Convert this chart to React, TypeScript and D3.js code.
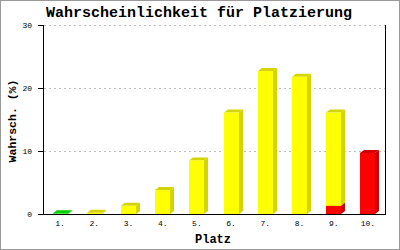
import React from "react";
import * as d3 from "d3";

const categories = ["1.", "2.", "3.", "4.", "5.", "6.", "7.", "8.", "9.", "10."];
const greenValues = [0.1, 0, 0, 0, 0, 0, 0, 0, 0, 0];
const redValues = [0, 0, 0, 0, 0, 0, 0, 0, 1.3, 9.7];
const yellowValues = [0, 0.2, 1.3, 3.8, 8.5, 16.1, 22.7, 21.8, 14.8, 0];
const yTicks = [0, 10, 20, 30];

const seriesKeys = ["green", "red", "yellow"];
const colors: Record<string, { front: string; dark: string }> = {
  green: { front: "#00ee00", dark: "#00cc00" },
  red: { front: "#ff0000", dark: "#cc0000" },
  yellow: { front: "#ffff00", dark: "#d4d400" },
};

const W = 400;
const H = 250;
const left = 43;
const right = 385;
const top = 25;
const bottom = 214;
const barW = 15;
const dx = 4;
const dy = 3;
const mono = "'Liberation Mono', 'DejaVu Sans Mono', monospace";

export default function App() {
  const rows = categories.map((c, i) => ({
    cat: c,
    green: greenValues[i],
    red: redValues[i],
    yellow: yellowValues[i],
  }));
  const stacked = d3.stack<any>().keys(seriesKeys)(rows);
  const x = d3.scaleBand().domain(categories).range([left, right]).padding(0);
  const y = d3.scaleLinear().domain([0, 30]).range([bottom, top]);

  const boxes: JSX.Element[] = [];
  stacked.forEach((layer) => {
    const key = layer.key;
    layer.forEach((d, i) => {
      const v0 = d[0];
      const v1 = d[1];
      if (v1 - v0 <= 0) return;
      const cx = (x(categories[i]) as number) + x.bandwidth() / 2;
      const x0 = Math.round(cx - barW / 2);
      const x1 = x0 + barW;
      const yt = y(v1);
      const yb = y(v0);
      const c = colors[key];
      boxes.push(
        <g key={key + i}>
          <polygon
            points={`${x1},${yt} ${x1 + dx},${yt - dy} ${x1 + dx},${yb - dy} ${x1},${yb}`}
            fill={c.dark}
          />
          <polygon
            points={`${x0},${yt} ${x0 + dx},${yt - dy} ${x1 + dx},${yt - dy} ${x1},${yt}`}
            fill={c.dark}
          />
          <rect x={x0} y={yt} width={barW} height={Math.max(0, yb - yt)} fill={c.front} />
        </g>
      );
    });
  });

  return (
    <svg
      width={W}
      height={H}
      style={{ position: "absolute", left: 0, top: 0, background: "#fff" }}
    >
      <rect x={0.5} y={0.5} width={W - 1} height={H - 1} fill="#fff" stroke="#999" strokeWidth={1} />
      <text
        x={199}
        y={17}
        textAnchor="middle"
        fontFamily={mono}
        fontWeight="bold"
        fontSize={15}
        fill="#000"
      >
        Wahrscheinlichkeit für Platzierung
      </text>
      {yTicks.map((t) => (
        <g key={t}>
          {t > 0 && (
            <line
              x1={left + 1}
              x2={right}
              y1={y(t) + 0.5}
              y2={y(t) + 0.5}
              stroke="#bbb"
              strokeDasharray="2,3"
            />
          )}
          <line x1={38} x2={left} y1={y(t) + 0.5} y2={y(t) + 0.5} stroke="#000" />
          <text
            x={32}
            y={y(t)}
            dy="0.35em"
            textAnchor="end"
            fontFamily={mono}
            fontSize={8}
            fill="#000"
          >
            {t}
          </text>
        </g>
      ))}
      {boxes}
      <line x1={left + 0.5} x2={left + 0.5} y1={top} y2={bottom + 1} stroke="#000" />
      <line x1={right + 0.5} x2={right + 0.5} y1={top} y2={bottom + 1} stroke="#000" />
      <line x1={left} x2={right + 1} y1={bottom + 0.5} y2={bottom + 0.5} stroke="#000" />
      {categories.map((c) => (
        <text
          key={c}
          x={(x(c) as number) + x.bandwidth() / 2}
          y={226}
          textAnchor="middle"
          fontFamily={mono}
          fontSize={8}
          fill="#000"
        >
          {c}
        </text>
      ))}
      <text
        x={213}
        y={243}
        textAnchor="middle"
        fontFamily={mono}
        fontWeight="bold"
        fontSize={12}
        fill="#000"
      >
        Platz
      </text>
      <text
        transform={`translate(16,121) rotate(-90)`}
        textAnchor="middle"
        fontFamily={mono}
        fontWeight="bold"
        fontSize={11.5}
        fill="#000"
      >
        Wahrsch. (%)
      </text>
    </svg>
  );
}
